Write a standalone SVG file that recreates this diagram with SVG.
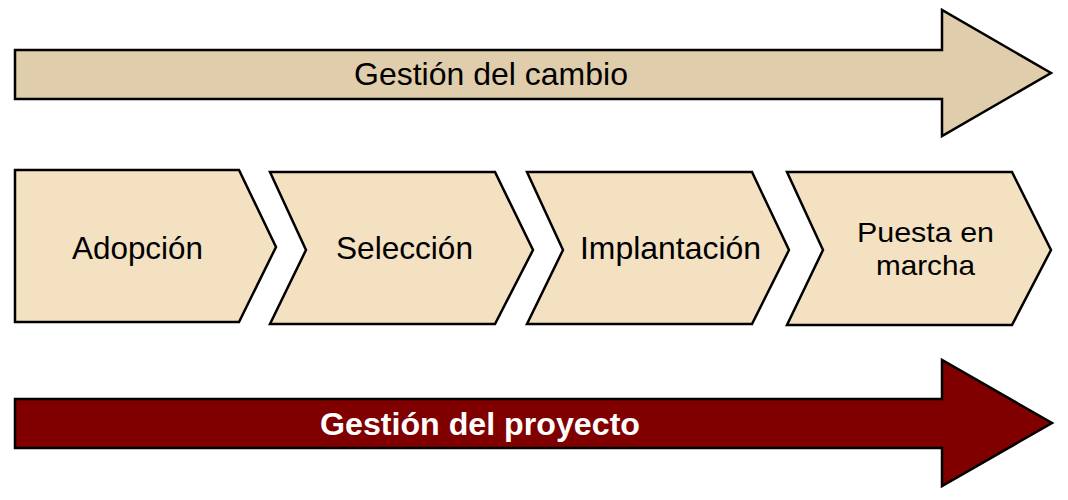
<svg xmlns="http://www.w3.org/2000/svg" width="1068" height="500" viewBox="0 0 1068 500">
<style>
.arrow{stroke:#000;stroke-width:2.5;stroke-linejoin:miter}
.chev{fill:#F4E1C2;stroke:#000;stroke-width:2.5;stroke-linejoin:miter}
.lbl{font-family:"Liberation Sans",Arial,sans-serif;font-size:31.5px;fill:#000}
.lbl2{font-family:"Liberation Sans",Arial,sans-serif;font-size:28.5px;fill:#000}
.lblw{font-family:"Liberation Sans",Arial,sans-serif;font-size:31px;font-weight:bold;fill:#fff}
</style>
<rect width="1068" height="500" fill="#fff"/>
<g id="gestion-cambio">
<polygon class="arrow" fill="#DFCDAB" points="15,50 942,50 942,10 1051,73 942,136 942,99 15,99"/>
<text class="lbl" x="354" y="85" textLength="274" lengthAdjust="spacingAndGlyphs">Gestión del cambio</text>
</g>
<g id="adopcion">
<polygon class="chev" points="15,170 239,170 276,247 239,322 15,322"/>
<text class="lbl" x="72" y="259" textLength="131" lengthAdjust="spacingAndGlyphs">Adopción</text>
</g>
<g id="seleccion">
<polygon class="chev" points="270,172 495,172 533,250 495,324 270,324 306,250"/>
<text class="lbl" x="336" y="259" textLength="137" lengthAdjust="spacingAndGlyphs">Selección</text>
</g>
<g id="implantacion">
<polygon class="chev" points="527,172 752,172 789,250 752,324 527,324 563,250"/>
<text class="lbl" x="580" y="259" textLength="181" lengthAdjust="spacingAndGlyphs">Implantación</text>
</g>
<g id="puesta-en-marcha">
<polygon class="chev" points="787,172 1012,172 1051,250 1012,325 787,325 823,250"/>
<text class="lbl2" x="857" y="242" textLength="137" lengthAdjust="spacingAndGlyphs">Puesta en</text>
<text class="lbl2" x="876" y="274.5" textLength="99" lengthAdjust="spacingAndGlyphs">marcha</text>
</g>
<g id="gestion-proyecto">
<polygon class="arrow" fill="#800000" points="15,399 942,399 942,360 1052,423 942,486 942,448 15,448"/>
<text class="lblw" x="320" y="435" textLength="320" lengthAdjust="spacingAndGlyphs">Gestión del proyecto</text>
</g>
<g id="connectors"/>
</svg>
